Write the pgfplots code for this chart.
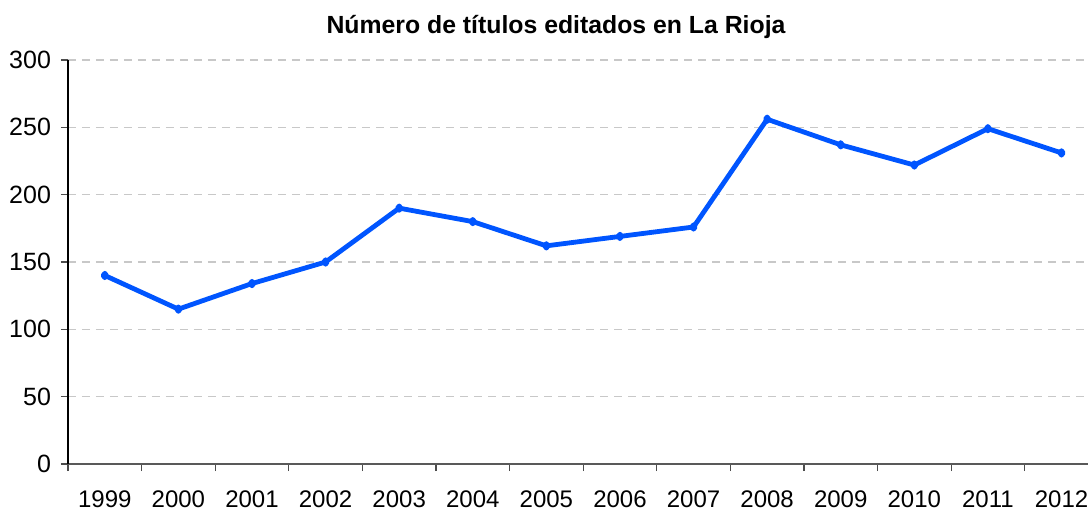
\documentclass[border=0pt]{standalone}
\usepackage{pgfplots}
\pgfplotsset{compat=1.18}
\usepackage{fontspec}
\setmainfont{Liberation Sans}
\definecolor{lineblue}{RGB}{0,85,255}
\definecolor{gridgray}{RGB}{200,200,200}
\begin{document}
\begin{tikzpicture}
\begin{axis}[
  scale only axis,
  width=510pt, height=202pt,
  xmin=-0.5, xmax=13.36,
  ymin=0, ymax=300,
  ytick={0,50,...,300},
  xtick={0,...,13},
  xticklabels={1999,2000,2001,2002,2003,2004,2005,2006,2007,2008,2009,2010,2011,2012},
  minor xtick={-0.5,0.5,...,12.5},
  major x tick style={draw=none},
  minor tick length=3.5pt,
  major tick length=3.5pt,
  tick align=outside,
  axis x line*=bottom,
  axis y line*=left,
  x axis line style={black!65, line width=0.8pt},
  y axis line style={black, line width=0.6pt},
  every tick/.style={black!70, line width=0.6pt},
  ymajorgrids,
  grid style={gridgray, dash pattern=on 4pt off 3pt, line width=0.6pt},
  xticklabel style={font=\fontsize{12}{14}\selectfont, yshift=-6.3pt},
  yticklabel style={font=\fontsize{12.5}{15}\selectfont, xshift=-1.5pt},
  /pgf/number format/assume math mode=true,
  clip=false,
]
\addplot[lineblue, line width=2.4pt, mark=diamond*, mark size=1.1pt, line join=round] coordinates {
(0,140) (1,115) (2,134) (3,150) (4,190) (5,180) (6,162) (7,169) (8,176) (9,256) (10,237) (11,222) (12,249) (13,231)
};
\end{axis}
\node[font=\bfseries\fontsize{12.4}{14}\selectfont] at (244pt,218.5pt) {Número de títulos editados en La Rioja};
\pgfresetboundingbox
\path[use as bounding box] (-34pt,-23.5pt) rectangle (510pt,232pt);
\end{tikzpicture}
\end{document}
